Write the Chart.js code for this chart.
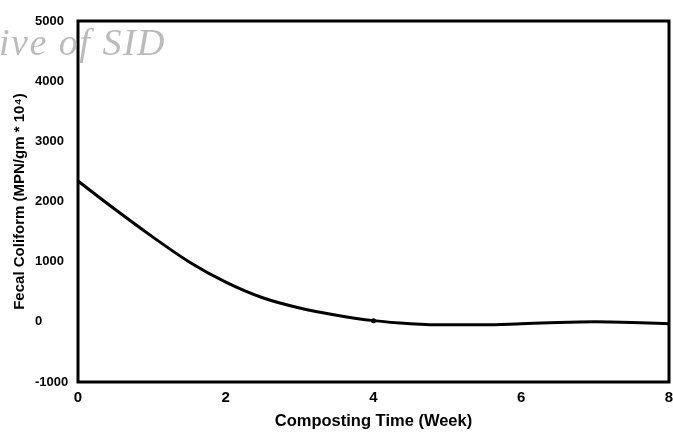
<!DOCTYPE html>
<html>
<head>
<meta charset="utf-8">
<script src="https://cdn.jsdelivr.net/npm/chart.js@4/dist/chart.umd.min.js"></script>
<style>
  body { margin: 0; background: #fff; }
  #wrap { width: 673px; height: 439px; position: relative; }
</style>
</head>
<body>
<div id="wrap"><canvas id="myChart"></canvas></div>
<script>
// weeks
const weeks = [0, 0.5, 1, 1.5, 2, 2.5, 3, 3.5, 4, 4.5, 5, 5.5, 6, 6.5, 7, 7.5, 8];
// fecal coliform (MPN/gm * 10^4)
const coliform = [2340, 1870, 1420, 1000, 660, 400, 230, 110, 20, -30, -50, -50, -30, -10, 0, -10, -30];
const xTicks = [0, 2, 4, 6, 8];
const yTicks = [-1000, 0, 1000, 2000, 3000, 4000, 5000];

const points = weeks.map((w, i) => ({ x: w, y: coliform[i] }));

// рамка вокруг области графика
const framePlugin = {
    id: 'frame',
    afterDatasetsDraw(chart) {
        const { ctx, chartArea: a } = chart;
        ctx.save();
        ctx.strokeStyle = '#000';
        ctx.lineWidth = 3;
        ctx.strokeRect(a.left, a.top, a.right - a.left, a.bottom - a.top);
        ctx.restore();
    }
};

// водяной знак
const watermark = {
    id: 'watermark',
    afterDraw(chart) {
        const ctx = chart.ctx;
        ctx.save();
        ctx.font = 'italic 38px "Liberation Serif", serif';
        ctx.letterSpacing = '1.5px';
        ctx.fillStyle = 'rgba(175,175,175,0.85)';
        ctx.textAlign = 'right';
        ctx.textBaseline = 'alphabetic';
        ctx.fillText('Archive of SID', 166, 55);
        ctx.restore();
    }
};

const font = '"Liberation Sans", Arial, sans-serif';

new Chart(document.getElementById('myChart'), {
    type: 'line',
    data: {
        datasets: [{
            data: points,
            borderColor: '#000',
            borderWidth: 3,
            pointRadius: weeks.map(w => (w === 4 ? 2.5 : 0)),
            pointBackgroundColor: '#000',
            pointBorderWidth: 0,
            cubicInterpolationMode: 'monotone',
            fill: false
        }]
    },
    options: {
        responsive: true,
        maintainAspectRatio: false,
        animation: false,
        layout: { padding: { top: 21, right: 4, left: 35, bottom: 0 } },
        plugins: {
            legend: { display: false },
            tooltip: { enabled: false }
        },
        scales: {
            x: {
                type: 'linear',
                min: 0,
                max: 8,
                afterBuildTicks: s => { s.ticks = xTicks.map(v => ({ value: v })); },
                afterFit: s => { s.height = 57; s.paddingLeft = 0; s.paddingRight = 0; },
                grid: { display: false, drawTicks: false },
                border: { display: false },
                ticks: {
                    color: '#000',
                    padding: 7,
                    callback: v => String(v),
                    font: { family: font, size: 15, weight: 'bold' }
                },
                title: {
                    display: true,
                    text: 'Composting Time (Week)',
                    color: '#000',
                    padding: { top: 0, bottom: 8 },
                    font: { family: font, size: 16.5, weight: 'bold' }
                }
            },
            y: {
                min: -1000,
                max: 5000,
                afterBuildTicks: s => { s.ticks = yTicks.map(v => ({ value: v })); },
                afterFit: s => { s.width = 43; },
                grid: { display: false, drawTicks: false },
                border: { display: false },
                ticks: {
                    color: '#000',
                    crossAlign: 'far',
                    callback: v => String(v),
                    font: { family: font, size: 13, weight: 'bold' }
                },
                title: {
                    display: true,
                    text: 'Fecal Coliform (MPN/gm * 10⁴)',
                    color: '#000',
                    padding: { top: -24, bottom: 0 },
                    font: { family: font, size: 15, weight: 'bold' }
                }
            }
        }
    },
    plugins: [framePlugin, watermark]
});
</script>
</body>
</html>
